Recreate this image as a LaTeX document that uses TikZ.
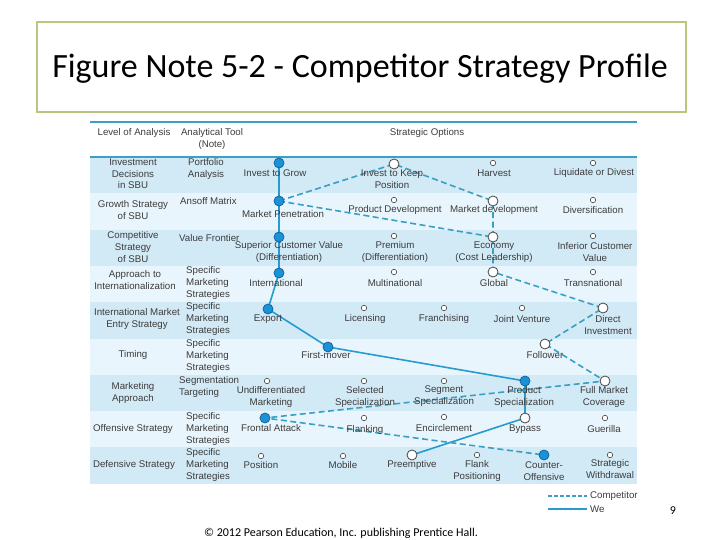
\documentclass[tikz,border=0pt]{standalone}
\usepackage{fontspec}
\setmainfont{Carlito}
\newfontfamily\tabfont{Liberation Sans}
\pgfdeclarelayer{fills}
\pgfdeclarelayer{lines}
\pgfsetlayers{fills,lines,main}
\definecolor{framec}{RGB}{186,197,128}
\definecolor{rowdark}{RGB}{210,234,246}
\definecolor{rowlight}{RGB}{233,245,252}
\definecolor{rulec}{RGB}{60,160,196}
\definecolor{txtc}{RGB}{60,60,60}
\definecolor{wec}{RGB}{38,155,208}
\definecolor{compc}{RGB}{58,160,195}
\definecolor{dotline}{RGB}{70,70,70}
\definecolor{fdotc}{RGB}{26,146,216}
\definecolor{fdotline}{RGB}{20,100,160}
\begin{document}
\begin{tikzpicture}[x=1pt,y=-1pt,
  tt/.style={font=\tabfont\fontsize{9.7}{11.6}\selectfont, text=txtc, inner sep=0pt, align=center},
  ttl/.style={tt, align=left, anchor=west},
  sdot/.style={circle, draw=dotline, fill=white, line width=0.6pt, minimum size=5.5pt, inner sep=0pt},
  hdot/.style={circle, draw=dotline, fill=white, line width=0.8pt, minimum size=10pt, inner sep=0pt},
  fdot/.style={circle, draw=fdotline, fill=fdotc, line width=0.8pt, minimum size=10pt, inner sep=0pt},
  we/.style={draw=wec, line width=1.6pt},
  comp/.style={draw=compc, line width=1.6pt, dash pattern=on 6pt off 3.5pt}]
\useasboundingbox (0,0) rectangle (720,540);
% title
\node[draw=framec, line width=2pt, minimum width=649pt, minimum height=90pt, inner sep=0pt, anchor=north west] (titlebox) at (35.5,21.5) {};
\node[font=\fontsize{34}{38}\selectfont, inner sep=0pt] (title) at (360,69) {Figure Note 5-2 - Competitor Strategy Profile};
% rows
\begin{pgfonlayer}{fills}
\foreach \i/\c in {0/rowdark,1/rowlight,2/rowdark,3/rowlight,4/rowdark,5/rowlight,6/rowdark,7/rowlight,8/rowdark}{
  \fill[\c] (90,{157+36.3*\i}) rectangle (637,{157+36.3*(\i+1)});
}
\end{pgfonlayer}
\draw[rulec, line width=2pt] (90,122) -- (637,122);
\draw[rulec, line width=1.3pt] (90,157) -- (637,157);
% header
\node[tt] (h1) at (134,133) {Level of Analysis};
\node[tt] (h2) at (212,139) {Analytical Tool\\(Note)};
\node[tt] (h3) at (427,133) {Strategic Options};
% level column
\node[tt] (l1) at (133,174) {Investment\\Decisions\\in SBU};
\node[tt] (l2) at (133,210) {Growth Strategy\\of SBU};
\node[tt] (l3) at (133,247) {Competitive\\Strategy\\of SBU};
\node[tt] (l4) at (135,280) {Approach to\\Internationalization};
\node[tt] (l5) at (137,319) {International Market\\Entry Strategy};
\node[tt] (l6) at (133,355) {Timing};
\node[tt] (l7) at (133,393) {Marketing\\Approach};
\node[tt] (l8) at (133,429) {Offensive Strategy};
\node[tt] (l9) at (134,465) {Defensive Strategy};
% tool column
\node[tt] (a1) at (206,169) {Portfolio\\Analysis};
\node[ttl] (a2) at (180,201) {Ansoff Matrix};
\node[ttl] (a3) at (179,238) {Value Frontier};
\node[ttl] (a4) at (186,283) {Specific\\Marketing\\Strategies};
\node[ttl] (a5) at (186,319) {Specific\\Marketing\\Strategies};
\node[ttl] (a6) at (186,356) {Specific\\Marketing\\Strategies};
\node[ttl] (a7) at (179,387) {Segmentation\\Targeting};
\node[ttl] (a8) at (186,429) {Specific\\Marketing\\Strategies};
\node[ttl] (a9) at (186,465) {Specific\\Marketing\\Strategies};
% option texts
\node[tt] (o11) at (275,173) {Invest to Grow};
\node[tt] (o12) at (392,179) {Invest to Keep\\Position};
\node[tt] (o13) at (494,173) {Harvest};
\node[tt] (o14) at (594,173) {Liquidate or Divest};
\node[tt] (o21) at (283,214) {Market Penetration};
\node[tt] (o22) at (395,210) {Product Development};
\node[tt] (o23) at (494,210) {Market development};
\node[tt] (o24) at (593,210) {Diversification};
\node[tt] (o31) at (289,252) {Superior Customer Value\\(Differentiation)};
\node[tt] (o32) at (395,252) {Premium\\(Differentiation)};
\node[tt] (o33) at (494,252) {Economy\\(Cost Leadership)};
\node[tt] (o34) at (595,252) {Inferior Customer\\Value};
\node[tt] (o41) at (276,283) {International};
\node[tt] (o42) at (395,283) {Multinational};
\node[tt] (o43) at (494,283) {Global};
\node[tt] (o44) at (593,283) {Transnational};
\node[tt] (o51) at (268,319) {Export};
\node[tt] (o52) at (365,319) {Licensing};
\node[tt] (o53) at (444,319) {Franchising};
\node[tt] (o54) at (522,319) {Joint Venture};
\node[tt] (o55) at (608,325) {Direct\\Investment};
\node[tt] (o61) at (326,355) {First-mover};
\node[tt] (o62) at (545,355) {Follower};
\node[tt] (o71) at (271,397) {Undifferentiated\\Marketing};
\node[tt] (o72) at (365,397) {Selected\\Specialization};
\node[tt] (o73) at (444,396) {Segment\\Specialization};
\node[tt] (o74) at (524,397) {Product\\Specialization};
\node[tt] (o75) at (604,397) {Full Market\\Coverage};
\node[tt] (o81) at (271,428) {Frontal Attack};
\node[tt] (o82) at (365,430) {Flanking};
\node[tt] (o83) at (444,428) {Encirclement};
\node[tt] (o84) at (525,429) {Bypass};
\node[tt] (o85) at (604,429) {Guerilla};
\node[tt] (o91) at (261,465) {Position};
\node[tt] (o92) at (343,465) {Mobile};
\node[tt] (o93) at (412,465) {Preemptive};
\node[tt] (o94) at (477,471) {Flank\\Positioning};
\node[tt] (o95) at (544,471) {Counter-\\Offensive};
\node[tt] (o96) at (610,469) {Strategic\\Withdrawal};
% dots
\node[fdot] (d11) at (279,163) {};
\node[hdot] (d12) at (394,164) {};
\node[sdot] (d13) at (493,163) {};
\node[sdot] (d14) at (593,163) {};
\node[fdot] (d21) at (279,201) {};
\node[sdot] (d22) at (394,200) {};
\node[hdot] (d23) at (493,201) {};
\node[sdot] (d24) at (593,200) {};
\node[fdot] (d31) at (279,237) {};
\node[sdot] (d32) at (394,236) {};
\node[hdot] (d33) at (493,237) {};
\node[sdot] (d34) at (593,236) {};
\node[fdot] (d41) at (279,273) {};
\node[sdot] (d42) at (394,272) {};
\node[hdot] (d43) at (493,272) {};
\node[sdot] (d44) at (593,272) {};
\node[fdot] (d51) at (268,309) {};
\node[sdot] (d52) at (364,308) {};
\node[sdot] (d53) at (444,308) {};
\node[sdot] (d54) at (522,308) {};
\node[hdot] (d55) at (603,308) {};
\node[fdot] (d61) at (328,347) {};
\node[hdot] (d62) at (545,344) {};
\node[sdot] (d71) at (267,381) {};
\node[sdot] (d72) at (364,381) {};
\node[sdot] (d73) at (444,381) {};
\node[fdot] (d74) at (525,381) {};
\node[hdot] (d75) at (605,381) {};
\node[fdot] (d81) at (265,418) {};
\node[sdot] (d82) at (364,418) {};
\node[sdot] (d83) at (444,417) {};
\node[hdot] (d84) at (525,418) {};
\node[sdot] (d85) at (605,418) {};
\node[sdot] (d91) at (261,456) {};
\node[sdot] (d92) at (343,456) {};
\node[hdot] (d93) at (412,455) {};
\node[sdot] (d94) at (477,455) {};
\node[fdot] (d95) at (544,455) {};
\node[sdot] (d96) at (610,455) {};
% connectors
\begin{pgfonlayer}{lines}
\draw[we] (d11.center) -- (d21.center) -- (d31.center) -- (d41.center) -- (d51.center) -- (d61.center) -- (d74.center) -- (d84.center) -- (d93.center);
\draw[comp] (d21.center) -- (d12.center) -- (d23.center) -- (d33.center);
\draw[comp] (d21.center) -- (d33.center) -- (d43.center) -- (d55.center) -- (d62.center) -- (d75.center) -- (d81.center) -- (d95.center);
\end{pgfonlayer}
% legend
\coordinate (lg1a) at (548,496);
\coordinate (lg1b) at (587,496);
\coordinate (lg2a) at (548,509);
\coordinate (lg2b) at (587,509);
\draw[comp, line width=1.3pt, dash pattern=on 4pt off 2pt] (lg1a) -- (lg1b);
\draw[we, line width=1.3pt] (lg2a) -- (lg2b);
\node[ttl] (lgt1) at (590,496) {Competitor};
\node[ttl] (lgt2) at (590,509) {We};
% footer
\node[font=\fontsize{12}{14}\selectfont, inner sep=0pt] (pg) at (673,511) {9};
\node[font=\fontsize{12}{14}\selectfont, inner sep=0pt] (copy) at (341,533) {© 2012 Pearson Education, Inc. publishing Prentice Hall.};
\end{tikzpicture}
\end{document}
